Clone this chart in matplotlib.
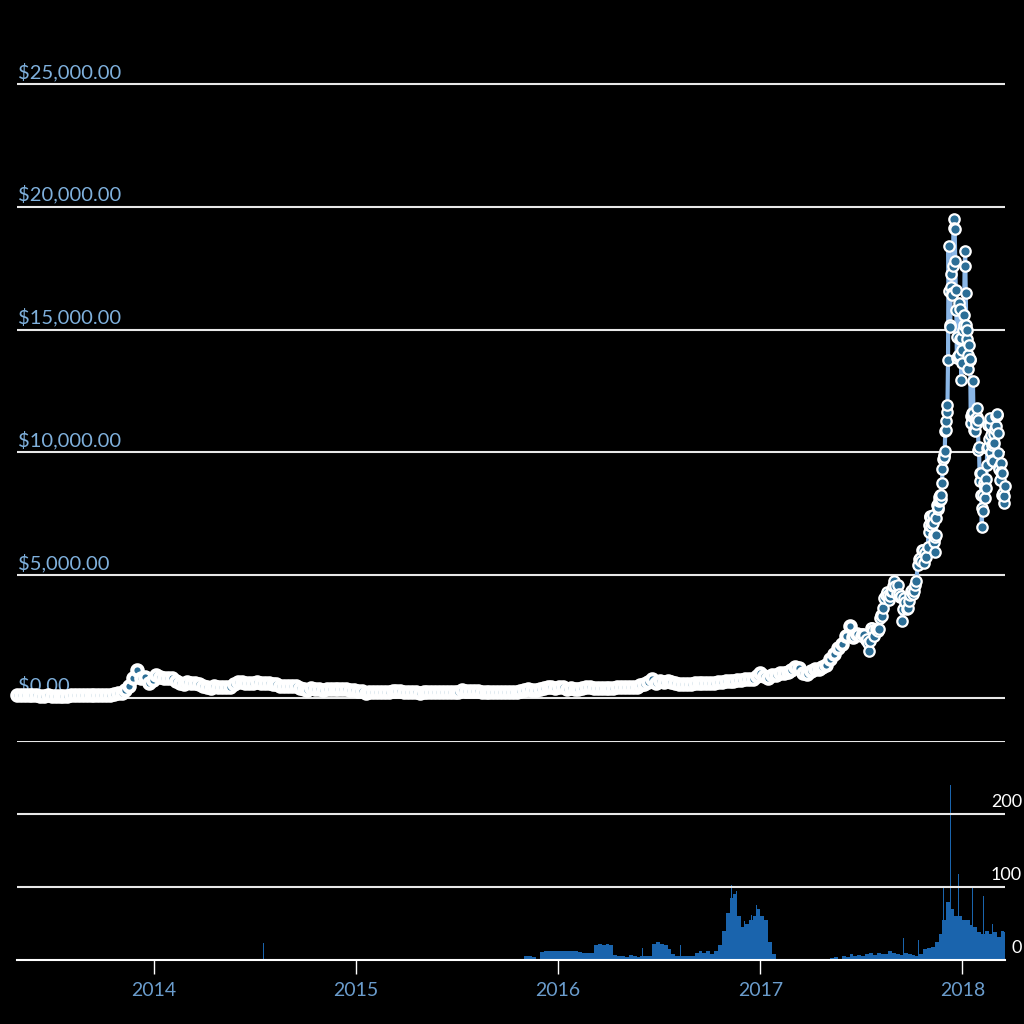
import matplotlib
matplotlib.use("Agg")
import matplotlib.pyplot as plt
import pandas as pd

# weekly closes, 2013-04-28 .. 2017-06-25
price_weekly = [
    135, 115, 115, 122, 133, 122, 100, 100, 103, 90, 70, 98, 90, 98,
    105, 105, 113, 120, 128, 125, 135, 125, 130, 125, 140, 170, 190,
    220, 330, 490, 800, 1120, 800, 850, 620, 750,
    # 2014
    920, 850, 830, 830, 810, 680, 630, 580, 670, 630, 630, 580, 480,
    450, 420, 500, 440, 430, 440, 440, 570, 660, 650, 600, 595, 600,
    635, 625, 625, 595, 590, 590, 480, 505, 480, 480, 475, 400, 375,
    320, 400, 385, 355, 325, 365, 385, 365, 380, 375, 350, 325, 317,
    # 2015
    265, 270, 210, 255, 225, 225, 235, 240, 260, 275, 285, 265, 250,
    255, 235, 225, 220, 240, 240, 235, 240, 230, 225, 235, 245, 250,
    260, 310, 275, 290, 280, 265, 255, 230, 230, 240, 230, 230, 233,
    240, 245, 262, 285, 325, 375, 320, 325, 370, 395, 435, 440, 420,
    # 2016
    430, 448, 385, 400, 378, 375, 400, 438, 432, 405, 413, 410, 425,
    420, 420, 430, 460, 450, 460, 455, 445, 530, 575, 670, 765, 630,
    700, 650, 680, 660, 625, 590, 570, 580, 575, 610, 605, 610, 605,
    610, 617, 640, 655, 700, 710, 700, 730, 730, 765, 780, 790, 890,
    # 2017
    1020, 910, 820, 920, 920, 1015, 1000, 1050, 1150, 1270, 1230, 1020, 965,
    1100, 1180, 1180, 1250, 1350, 1570, 1780, 2050, 2200, 2520, 2950, 2500, 2590,
]

# every second day, 2017-07-02 .. 2017-10-30
price_2day = [
    2535, 2600, 2610, 2560, 2380, 2400, 2230, 1930, 2320, 2870, 2830, 2760, 2530, 2800, 2760,
    2720, 2810, 3250, 3380, 3340, 3650, 4070, 4180, 4330, 4190, 4010, 4150, 4370, 4350, 4580, 4760,
    4580, 4240, 4600, 4230, 4120, 4170, 3150, 3640, 4090, 3900, 3630, 3670, 3930, 4200, 4340,
    4400, 4230, 4370, 4610, 4780, 5430, 5650, 5680, 5570, 6010, 6010, 5500, 5900, 5750, 6130,
]

# daily, 2017-11-01 .. 2018-03-19
price_daily = [
    6740, 7030, 7380, 7410, 7380, 7020, 7140, 7460, 7140, 6620,
    6360, 5950, 6560, 6640, 7320, 7870, 7710, 7790, 8040, 8200,
    8070, 8260, 8090, 8250, 8760, 9320, 9730, 9910, 9820, 10060,
    10860, 10910, 11290, 11640, 11920, 13750, 18400, 16570, 15180, 15120,
    16730, 17280, 16480, 16410, 17600, 19500, 19140, 19110, 17780, 16620,
    15800, 13830, 14700, 13930, 13960, 16100, 15840, 14600, 14660, 12950,
    14160,
    13660, 14980, 15200, 15600, 17600, 18200, 16480, 15170, 14600, 14970,
    13400, 13980, 14360, 13770, 13820, 11490, 11190, 11470, 11610, 12900,
    11600, 10930, 10870, 11360, 11260, 11170, 11440, 11790, 11310, 10110,
    10220,
    9170, 8830, 9170, 8280, 6960, 7750, 7620, 8270, 8740, 8620,
    8130, 8930, 8540, 9490, 10170, 10230, 11110, 10550, 11120, 11400,
    10690, 10010, 10300, 9700, 9660, 10370, 10730, 10400,
    10950, 11090, 11490, 11510, 11570, 10780, 9970, 9400, 9340, 8870,
    9580, 9210, 9150, 8270, 8300, 8340, 7920, 8220, 8630,
]

# weekly volume from 2015-10-25
volume_weekly = [
    0, 5, 6, 4, 0,
    11, 12, 12, 13, 12, 12, 13, 12, 13, 12, 11, 10,
    10, 10, 20, 22, 21, 22, 20, 7,
    5, 6, 4, 7, 5, 4, 6, 5, 6,
    22, 25, 22, 20, 15, 8, 6,
    6, 5, 5, 6, 10, 12, 9, 13,
    8, 12, 20, 40, 65,
    85, 90, 60, 45, 50, 55, 60, 70, 60, 55, 25, 8,
    0, 0, 0, 0, 0, 0, 0, 0, 0, 0, 0, 0, 0,
    2, 3, 4, 2, 6, 4, 8, 5, 7, 6, 8, 9, 7, 10, 8,
    8, 12, 9,
    8, 7, 9, 8, 7, 6, 8,
    15, 16, 18,
    25, 35, 55, 80, 70, 60, 60, 55, 55, 48, 45, 38, 36, 40, 35, 38, 32, 40, 38,
]

# single-day volume spikes
spike_dates = ["2014-07-17", "2015-01-14", "2016-06-02", "2016-08-09", "2016-10-18",
               "2016-11-10", "2016-11-19", "2016-12-03", "2016-12-16", "2016-12-25",
               "2017-01-09", "2017-09-16", "2017-10-14", "2017-11-28", "2017-12-10",
               "2017-12-25", "2018-01-19", "2018-02-08", "2018-02-24"]
spike_values = [23, 2, 16, 20, 25, 103, 94, 53, 62, 76, 119, 30, 28, 100, 240, 118, 100, 88, 50]

price_ticks = [0, 5000, 10000, 15000, 20000, 25000]
volume_ticks = [0, 100, 200]
years = ["2014", "2015", "2016", "2017", "2018"]

dates_w = list(pd.date_range("2013-04-28", periods=len(price_weekly), freq="7D"))
dates_2 = list(pd.date_range("2017-07-02", periods=len(price_2day), freq="2D"))
dates_d = list(pd.date_range("2017-11-01", periods=len(price_daily), freq="D"))
dates = dates_w + dates_2 + dates_d
prices = price_weekly + price_2day + price_daily
vol_dates = pd.date_range("2015-10-25", periods=len(volume_weekly), freq="7D")

x0, x1 = pd.Timestamp("2013-04-28"), pd.Timestamp("2018-03-19")

fig = plt.figure(figsize=(10.24, 10.24), dpi=100, facecolor="black")

# price panel
ax = fig.add_axes([17/1024, 304/1024, 988/1024, 680/1024], facecolor="black")
ax.set_xlim(x0, x1)
ax.set_ylim(-896, 26792)
for v in price_ticks:
    ax.axhline(v, color="#e8e8e8", lw=1.5, zorder=1)
    ax.text(x0 + pd.Timedelta(days=2), v + 120, "${:,.2f}".format(v), color="#7fb0dc",
            fontsize=14.5, family="Lato", va="bottom", ha="left", zorder=0)
ax.plot(dates, prices, color="#8ab6e6", lw=3, zorder=2, clip_on=False)
# dense stretch: markers overlap into a white band
ax.plot(dates_w, price_weekly, ls="none", marker="o", ms=7.5,
        mfc="#2c6e96", mec="white", mew=3.0, zorder=3, clip_on=False)
ax.plot(dates_2 + dates_d, price_2day + price_daily, ls="none", marker="o", ms=7.5,
        mfc="#2c6e96", mec="white", mew=1.6, zorder=3, clip_on=False)
ax.axis("off")

# volume panel
axv = fig.add_axes([17/1024, 64/1024, 988/1024, 219/1024], facecolor="black")
axv.set_xlim(x0, x1)
axv.set_ylim(0, 300)
axv.bar(vol_dates, volume_weekly, width=7, align="edge", color="#1a64ad", lw=0)
axv.bar(pd.to_datetime(spike_dates), spike_values, width=1.3, color="#1a64ad", lw=0)
for v in [100, 200, 300]:
    axv.axhline(v, color="#e8e8e8", lw=1.5)
for v in volume_ticks:
    fig.text(1022/1024, (64 + v * 219 / 300 + 4) / 1024, str(v), color="white",
             fontsize=13, family="Lato", va="bottom", ha="right")
for s in ["top", "left", "right"]:
    axv.spines[s].set_visible(False)
axv.spines["bottom"].set_color("white")
axv.spines["bottom"].set_linewidth(1.5)
axv.set_yticks([])
axv.set_xticks(pd.to_datetime([y + "-01-01" for y in years]))
axv.set_xticklabels(years)
axv.tick_params(axis="x", colors="white", length=10, width=1, labelcolor="#6a9ccc",
                labelsize=14, pad=6)
for lab in axv.get_xticklabels():
    lab.set_family("Lato")

fig.savefig("out.png", dpi=100, facecolor="black")
